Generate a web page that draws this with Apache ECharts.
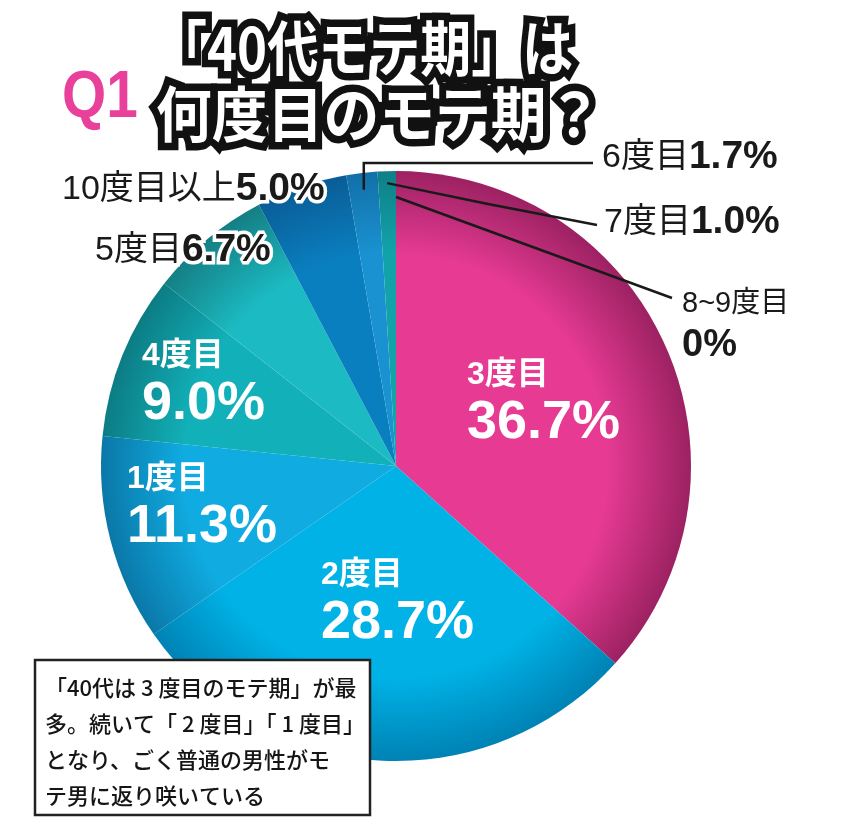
<!DOCTYPE html>
<html><head><meta charset="utf-8">
<script src="https://cdn.jsdelivr.net/npm/echarts@6/dist/echarts.min.js"></script>
<style>html,body{margin:0;padding:0;background:#fff}#c{width:847px;height:833px}</style>
</head><body><div id="c"></div>
<script>
// ---- data ----
const categories = ['3度目','2度目','1度目','4度目','5度目','10度目以上','6度目','7度目','8~9度目'];
const values = [36.7, 28.7, 11.3, 9.0, 6.7, 5.0, 1.7, 1.0, 0];
const titleMark = 'Q1';
const titleLines = ['「40代モテ期」は', '何度目のモテ期？'];
const noteLines = ['「40代は 3 度目のモテ期」が最', '多。続いて「 2 度目」「 1 度目」', 'となり、ごく普通の男性がモ', 'テ男に返り咲いている'];

// ---- style / layout ----
const CX = 396, CY = 466, R = 295;
const baseColors = ['#e63a93','#00b2e6','#10abe0','#12b0b8','#1cbac2','#0a7fc0','#1a92d2','#12a3aa','#12a3aa'];
const edgeColors = ['#9c2262','#0082b4','#0a78a8','#0c7c84','#147f84','#0a5d96','#1270a8','#0e7f86','#0e7f86'];
const labelKind = ['in','in','in','in','side','side','side','side','two'];
const labelPos = [[467,356],[321,556],[127,460],[142,337],[95,231],[62,170],[602,138],[604,203],[682,284]];
const lineR = [0,0,0,0,0,0,278,283,269];
const lineEnds = [null,null,null,null,null,null,[[null,163],[593,163]],[[488,204],[597,225]],[[530,246],[672,298]]];

const FONT = '"Liberation Sans","Noto Sans CJK JP",sans-serif';
const total = values.reduce((a,b)=>a+b,0);
const fmtPct = v => (v === 0 ? '0' : v.toFixed(1)) + '%';

function midAngle(i){
  let s = 0; for (let k=0;k<i;k++) s += values[k];
  return (s + values[i]/2) / total * Math.PI * 2;
}

const pieData = values.map((v,i)=>({
  name: categories[i], value: v,
  itemStyle: { color: { type:'radial', x:CX, y:CY, r:R, global:true,
    colorStops:[{offset:0,color:baseColors[i]},{offset:0.72,color:baseColors[i]},{offset:1,color:edgeColors[i]}] } }
}));
const labelData = values.map((v,i)=>({
  name: categories[i], value: v,
  itemStyle: { color: 'rgba(0,0,0,0)' },
  labelLine: { show: lineR[i] > 0 }
}));

const chart = echarts.init(document.getElementById('c'), null, {renderer:'canvas'});
chart.setOption({
  animation: false,
  backgroundColor: '#fff',
  series: [{
    type: 'pie', z: 2,
    center: [CX, CY], radius: R, startAngle: 90, clockwise: true,
    silent: true, label: { show: false }, labelLine: { show: false },
    data: pieData
  }, {
    type: 'pie', z: 3,
    center: [CX, CY], radius: R, startAngle: 90, clockwise: true,
    avoidLabelOverlap: false, silent: true,
    data: labelData,
    label: {
      show: true,
      position: 'outside',
      fontFamily: FONT,
      formatter: p => {
        const k = labelKind[p.dataIndex];
        const pct = fmtPct(values[p.dataIndex]);
        if (k === 'in') return '{n|' + p.name + '}\n{v|' + pct + '}';
        if (k === 'two') return '{s|' + p.name + '}\n{w|' + pct + '}';
        return '{d|' + p.name + '}{b|' + pct + '}';
      },
      rich: {
        n: { color:'#fff', fontSize:32, fontWeight:'bold', lineHeight:38, fontFamily:FONT },
        v: { color:'#fff', fontSize:54, fontWeight:'bold', lineHeight:58, fontFamily:FONT },
        d: { color:'#1a1a1a', fontSize:34, fontWeight:'normal', fontFamily:FONT, textBorderColor:'#fff', textBorderWidth:7 },
        b: { color:'#1a1a1a', fontSize:39, fontWeight:'bold', fontFamily:FONT, textBorderColor:'#fff', textBorderWidth:7 },
        s: { color:'#1a1a1a', fontSize:29, fontWeight:'normal', lineHeight:40, fontFamily:FONT },
        w: { color:'#1a1a1a', fontSize:38, fontWeight:'bold', lineHeight:44, fontFamily:FONT }
      }
    },
    labelLine: { lineStyle: { color:'#1a1a1a', width:2.5 } },
    labelLayout: p => {
      const i = p.dataIndex;
      const out = { x: labelPos[i][0], y: labelPos[i][1], align:'left', verticalAlign:'top' };
      if (lineR[i] > 0) {
        const a = midAngle(i);
        const sx = CX + lineR[i]*Math.sin(a), sy = CY - lineR[i]*Math.cos(a);
        const e = lineEnds[i];
        out.labelLinePoints = [[sx,sy],[e[0][0]==null?sx:e[0][0], e[0][1]],[e[1][0],e[1][1]]];
      }
      return out;
    }
  }],
  graphic: [
    { type:'text', x:62, y:66, scaleX:0.86, z:50,
      style:{ text:titleMark, font:'bold 66px "Liberation Sans", sans-serif', fill:'#e8409b' } },
    { type:'text', x:156, y:18, scaleX:0.85, z:50,
      style:{ text:titleLines[0], font:'bold 60px "Noto Sans CJK JP", sans-serif', fill:'#fff', stroke:'#111', lineWidth:15, lineJoin:'round' } },
    { type:'text', x:156, y:84, scaleX:0.93, z:50,
      style:{ text:titleLines[1], font:'bold 60px "Noto Sans CJK JP", sans-serif', fill:'#fff', stroke:'#111', lineWidth:15, lineJoin:'round' } },
    { type:'rect', z:50, shape:{x:35,y:660,width:335,height:155},
      style:{ fill:'#fff', stroke:'#222', lineWidth:2.5 } },
    { type:'text', x:45, y:670, z:51,
      style:{ text:noteLines.join('\n'), font:'500 22px "Noto Sans CJK JP", sans-serif', lineHeight:36, fill:'#151515' } }
  ]
});
</script></body></html>
